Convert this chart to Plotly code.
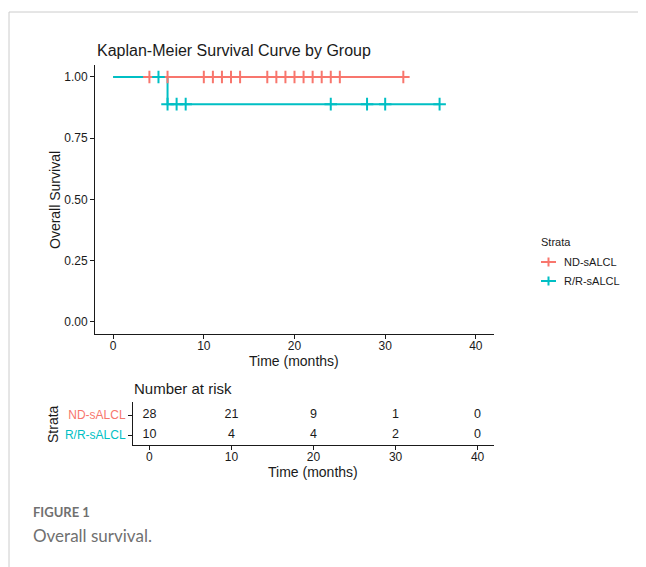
import plotly.graph_objects as go

# ---------------- data ----------------
groups = ["ND-sALCL", "R/R-sALCL"]
colors = ["#F8766D", "#00BFC4"]

# step curves (time, survival)
nd_time = [0, 32]
nd_surv = [1.0, 1.0]
rr_time = [0, 6, 36]
rr_surv = [1.0, 0.889, 0.889]

# censor marks
nd_cens_time = [4, 6, 10, 11, 12, 13, 14, 17, 18, 19, 20, 21, 22, 23, 24, 25, 32]
nd_cens_surv = [1.0] * len(nd_cens_time)
rr_cens_time = [5, 6, 7, 8, 24, 28, 30, 36]
rr_cens_surv = [1.0, 0.889, 0.889, 0.889, 0.889, 0.889, 0.889, 0.889]

# number at risk
risk_times = [0, 10, 20, 30, 40]
nd_risk = [28, 21, 9, 1, 0]
rr_risk = [10, 4, 4, 2, 0]

x_ticks = [0, 10, 20, 30, 40]
y_ticks = [0, 0.25, 0.5, 0.75, 1.0]
y_ticktext = ["0.00", "0.25", "0.50", "0.75", "1.00"]

OFF = 8  # default page body margin
W, H = 646 - OFF, 567 - OFF
FONT = "Liberation Sans, Arial, sans-serif"
TXT = "#1a1a1a"


def px(x):
    return (x - OFF) / W


def py(y):
    return 1 - (y - OFF) / H


fig = go.Figure()

# curves
fig.add_trace(go.Scatter(x=nd_time, y=nd_surv, mode="lines", line=dict(color=colors[0], width=2, shape="hv"),
                         showlegend=False, xaxis="x", yaxis="y"))
fig.add_trace(go.Scatter(x=rr_time, y=rr_surv, mode="lines", line=dict(color=colors[1], width=2, shape="hv"),
                         showlegend=False, xaxis="x", yaxis="y"))
# censor marks
fig.add_trace(go.Scatter(x=nd_cens_time, y=nd_cens_surv, mode="markers",
                         marker=dict(symbol="cross-thin", size=9, line=dict(color=colors[0], width=2)),
                         showlegend=False, xaxis="x", yaxis="y"))
fig.add_trace(go.Scatter(x=rr_cens_time, y=rr_cens_surv, mode="markers",
                         marker=dict(symbol="cross-thin", size=9, line=dict(color=colors[1], width=2)),
                         showlegend=False, xaxis="x", yaxis="y"))

# risk table
fig.add_trace(go.Scatter(x=risk_times, y=[2] * len(risk_times), mode="text",
                         text=[str(v) for v in nd_risk], textfont=dict(size=12.5, color=TXT, family=FONT),
                         showlegend=False, xaxis="x2", yaxis="y2"))
fig.add_trace(go.Scatter(x=risk_times, y=[1] * len(risk_times), mode="text",
                         text=[str(v) for v in rr_risk], textfont=dict(size=12.5, color=TXT, family=FONT),
                         showlegend=False, xaxis="x2", yaxis="y2"))

axis_common = dict(showline=True, linecolor="#1a1a1a", linewidth=1, ticks="outside", ticklen=4,
                   tickcolor="#1a1a1a", tickwidth=1, showgrid=False, zeroline=False,
                   tickfont=dict(size=12, color=TXT, family=FONT))

fig.update_layout(
    width=W, height=H, autosize=False,
    margin=dict(l=0, r=0, t=0, b=0),
    paper_bgcolor="white", plot_bgcolor="white",
    font=dict(family=FONT, color=TXT),
    xaxis=dict(domain=[px(95), px(494)], range=[-2, 42], tickvals=x_ticks, anchor="y",
               ticklabelstandoff=-3, **axis_common),
    yaxis=dict(domain=[py(334), py(64.75)], range=[-0.05, 1.05], tickvals=y_ticks, ticktext=y_ticktext,
               anchor="x", **axis_common),
    xaxis2=dict(domain=[px(133), px(494)], range=[-2, 42], tickvals=x_ticks, anchor="y2",
                ticklabelstandoff=-3, **axis_common),
    yaxis2=dict(domain=[py(445), py(401.7)], range=[0.5, 2.665], tickvals=[2, 1],
                ticktext=[f'<span style="color:{colors[0]}">{groups[0]}</span>',
                          f'<span style="color:{colors[1]}">{groups[1]}</span>'],
                anchor="x2", **axis_common),
)

ann = []


def A(text, x, y, size, xanchor="center", angle=0, color=TXT, family=FONT):
    ann.append(dict(text=text, x=px(x), y=py(y), xref="paper", yref="paper", showarrow=False,
                    xanchor=xanchor, yanchor="middle", textangle=angle,
                    font=dict(size=size, color=color, family=family)))


A("Kaplan-Meier Survival Curve by Group", 95, 50, 16, xanchor="left")
A("Time (months)", 294, 361, 14)
A("Overall Survival", 55, 200, 14, angle=-90)
A("Number at risk", 132, 388, 15, xanchor="left")
A("Strata", 53, 424, 14, angle=-90)
A("Time (months)", 313, 472, 14)
# legend
A("Strata", 539, 242, 11, xanchor="left")
A(groups[0], 562, 262, 11, xanchor="left")
A(groups[1], 562, 281, 11, xanchor="left")
# caption
A("<b>FIGURE 1</b>", 31, 512, 13, xanchor="left", color="#707070", family="Lato, Open Sans, sans-serif")
A("Overall survival.", 31, 535, 17, xanchor="left", color="#707070", family="Lato, Open Sans, sans-serif")

fig.update_layout(annotations=ann)

shapes = [
    dict(type="line", xref="paper", yref="paper", x0=px(9), x1=px(646), y0=py(12), y1=py(12),
         line=dict(color="#cccccc", width=1)),
    dict(type="line", xref="paper", yref="paper", x0=px(9), x1=px(9), y0=py(12), y1=py(567),
         line=dict(color="#cccccc", width=1)),
]
for i, yy in enumerate([262, 281]):
    shapes.append(dict(type="line", xref="paper", yref="paper", x0=px(541), x1=px(556), y0=py(yy), y1=py(yy),
                       line=dict(color=colors[i], width=2)))
    shapes.append(dict(type="line", xref="paper", yref="paper", x0=px(548.5), x1=px(548.5),
                       y0=py(yy - 4.5), y1=py(yy + 4.5), line=dict(color=colors[i], width=2)))
fig.update_layout(shapes=shapes)

fig.write_html("out.html")
